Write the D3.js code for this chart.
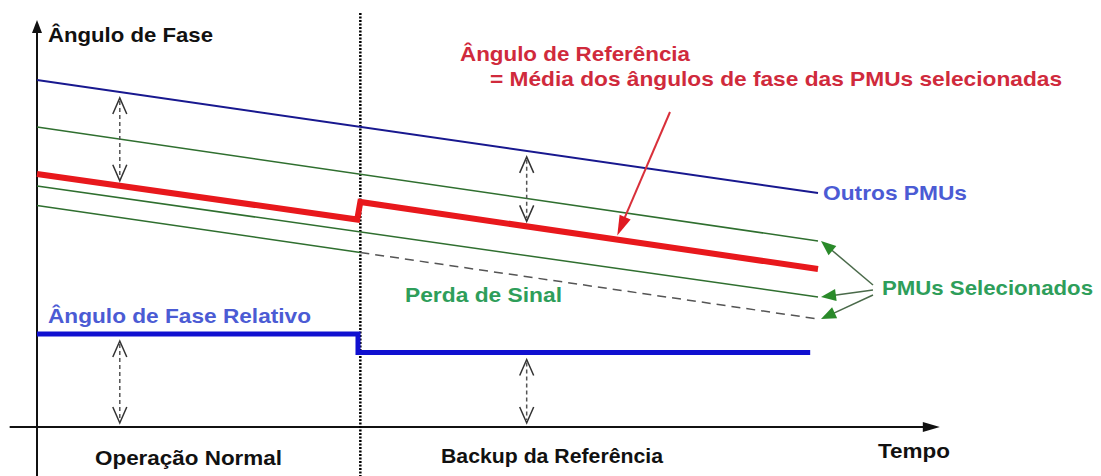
<!DOCTYPE html>
<html>
<head>
<meta charset="utf-8">
<script src="https://cdn.jsdelivr.net/npm/d3@7"></script>
<style>
body { margin: 0; background: #fff; }
text { font-family: "Liberation Sans", Arial, sans-serif; font-weight: bold; }
</style>
</head>
<body>
<div id="chart"></div>
<script>
//Width and height of picture
var width = 1101;
var height = 476;

// time (arbitrary units) where the reference switches to backup
var tSwitch = 4.14;

// phase angle traces as [time, angle] pairs
var outrosPMUs = [[0, 34.7], [10, 23.4]];
var pmuSel1 = [[0, 30.0], [10, 18.6]];
var pmuSel2 = [[0, 24.1], [10, 13.0]];
var pmuSel3 = [[0, 22.15], [4.14, 17.45]];
var pmuSel3Perda = [[4.14, 17.45], [10, 10.8]];
var anguloRef = [[0, 25.3], [4.10, 20.75], [4.14, 22.5], [10, 15.8]];
var anguloRelativo = [[0, 9.3], [4.11, 9.3], [4.11, 7.45], [9.9, 7.45]];

// times where the dashed double arrows mark the angle difference
var arrowTimes = [1.06, 6.27];

// time where the red note points at the reference trace
var tNote = 7.43;

// axis extents
var tAxis = [-0.35, 11.56];
var angAxis = [-4.9, 40.7];

// text labels
var labels = [
    { text: "Ângulo de Fase", x: 48, y: 42, w: 165, color: "#111" },
    { text: "Ângulo de Referência", x: 460, y: 61, w: 230, color: "#d02a3c" },
    { text: "= Média dos ângulos de fase das PMUs selecionadas", x: 490, y: 86, w: 572, color: "#d02a3c" },
    { text: "Outros PMUs", x: 823, y: 200, w: 144, color: "#4b5bd4" },
    { text: "PMUs Selecionados", x: 882, y: 295, w: 211, color: "#2e9e5a" },
    { text: "Perda de Sinal", x: 405, y: 302, w: 157, color: "#2e9e5a" },
    { text: "Ângulo de Fase Relativo", x: 48, y: 323, w: 263, color: "#4b5bd4" },
    { text: "Operação Normal", x: 95, y: 465, w: 187, color: "#111" },
    { text: "Backup da Referência", x: 441, y: 463, w: 222, color: "#111" },
    { text: "Tempo", x: 878, y: 458, w: 72, color: "#111" }
];

// scales
var x = d3.scaleLinear().domain([0, 10]).range([37, 818]);
var y = d3.scaleLinear().domain([0, 40]).range([427, 27]);

var line = d3.line()
    .x(function (d) { return x(d[0]); })
    .y(function (d) { return y(d[1]); });

// linear value of a trace at time t
function valueAt(series, t) {
    for (var i = 0; i < series.length - 1; i++) {
        var a = series[i], b = series[i + 1];
        if (t >= a[0] && t <= b[0]) {
            return a[1] + (b[1] - a[1]) * (t - a[0]) / (b[0] - a[0]);
        }
    }
    return series[series.length - 1][1];
}

// filled triangle head pointing from (fx,fy) to (tx,ty)
function head(g, tx, ty, fx, fy, len, hw, color) {
    var a = Math.atan2(ty - fy, tx - fx);
    var bx = tx - len * Math.cos(a), by = ty - len * Math.sin(a);
    var px = -Math.sin(a) * hw, py = Math.cos(a) * hw;
    g.append("path")
        .attr("d", "M" + tx + "," + ty + "L" + (bx + px) + "," + (by + py) + "L" + (bx - px) + "," + (by - py) + "Z")
        .attr("fill", color);
}

// dashed arrow with open heads on both ends
function doubleArrow(g, xp, y1, y2) {
    g.append("line")
        .attr("x1", xp).attr("x2", xp)
        .attr("y1", y1 + 3).attr("y2", y2 - 3)
        .attr("stroke", "#555")
        .attr("stroke-width", 1.5)
        .attr("stroke-dasharray", "4,3");
    g.append("path")
        .attr("d", "M" + (xp - 7) + "," + (y1 + 16) + "L" + xp + "," + y1 + "L" + (xp + 7) + "," + (y1 + 16))
        .attr("fill", "none").attr("stroke", "#333").attr("stroke-width", 1.5);
    g.append("path")
        .attr("d", "M" + (xp - 7) + "," + (y2 - 16) + "L" + xp + "," + y2 + "L" + (xp + 7) + "," + (y2 - 16))
        .attr("fill", "none").attr("stroke", "#333").attr("stroke-width", 1.5);
}

var svg = d3.select("#chart")
    .append("svg")
    .attr("width", width)
    .attr("height", height)
    .style("background", "#fff");

// axes
svg.append("line")
    .attr("x1", x(0)).attr("x2", x(0))
    .attr("y1", y(angAxis[0])).attr("y2", y(angAxis[1]) + 10)
    .attr("stroke", "#111").attr("stroke-width", 2);
head(svg, x(0), y(angAxis[1]), x(0), y(0), 13, 5, "#111");

svg.append("line")
    .attr("x1", x(tAxis[0])).attr("x2", x(tAxis[1]) - 12)
    .attr("y1", y(0)).attr("y2", y(0))
    .attr("stroke", "#111").attr("stroke-width", 2);
head(svg, x(tAxis[1]), y(0), x(0), y(0), 17, 5, "#111");

// switch instant
svg.append("line")
    .attr("x1", x(tSwitch)).attr("x2", x(tSwitch))
    .attr("y1", y(41.4)).attr("y2", y(angAxis[0]))
    .attr("stroke", "#000")
    .attr("stroke-width", 2.5)
    .attr("stroke-dasharray", "2,1.5");

// traces
svg.append("path").datum(outrosPMUs).attr("d", line)
    .attr("fill", "none").attr("stroke", "#18188f").attr("stroke-width", 2);

[pmuSel1, pmuSel2, pmuSel3].forEach(function (s) {
    svg.append("path").datum(s).attr("d", line)
        .attr("fill", "none").attr("stroke", "#2f6f2f").attr("stroke-width", 1.5);
});

svg.append("path").datum(pmuSel3Perda).attr("d", line)
    .attr("fill", "none").attr("stroke", "#555").attr("stroke-width", 1.5)
    .attr("stroke-dasharray", "9,6");

svg.append("path").datum(anguloRef).attr("d", line)
    .attr("fill", "none").attr("stroke", "#e8181c").attr("stroke-width", 6)
    .attr("stroke-linejoin", "miter");

svg.append("path").datum(anguloRelativo).attr("d", line)
    .attr("fill", "none").attr("stroke", "#1010d0").attr("stroke-width", 5)
    .attr("stroke-linejoin", "miter");

// difference arrows
arrowTimes.forEach(function (t) {
    doubleArrow(svg, x(t), y(valueAt(outrosPMUs, t)) + 6, y(valueAt(anguloRef, t)) - 5);
    doubleArrow(svg, x(t), y(valueAt(anguloRelativo, t)) + 7, y(0) - 4);
});

// red note arrow
var noteTipX = x(tNote), noteTipY = y(valueAt(anguloRef, tNote)) - 4;
svg.append("line")
    .attr("x1", 670).attr("y1", 112)
    .attr("x2", noteTipX + 4).attr("y2", noteTipY - 10)
    .attr("stroke", "#d9303a").attr("stroke-width", 2);
head(svg, noteTipX, noteTipY, 670, 112, 20, 6, "#e01a22");

// green pointers to the selected PMUs
[pmuSel1, pmuSel2, pmuSel3Perda].forEach(function (s, i) {
    var last = s[s.length - 1];
    var tx = x(last[0]) + 3, ty = y(last[1]);
    var fx = 873, fy = 285 + i * 5;
    var a = Math.atan2(ty - fy, tx - fx);
    svg.append("line")
        .attr("x1", fx).attr("y1", fy)
        .attr("x2", tx - 10 * Math.cos(a)).attr("y2", ty - 10 * Math.sin(a))
        .attr("stroke", "#4a6a4a").attr("stroke-width", 1.5);
    head(svg, tx, ty, fx, fy, 15, 6, "#2a8a2a");
});

// labels
svg.selectAll("text.lbl")
    .data(labels)
    .enter()
    .append("text")
    .attr("class", "lbl")
    .attr("x", function (d) { return d.x; })
    .attr("y", function (d) { return d.y; })
    .attr("font-size", 21)
    .attr("textLength", function (d) { return d.w; })
    .attr("lengthAdjust", "spacingAndGlyphs")
    .attr("fill", function (d) { return d.color; })
    .text(function (d) { return d.text; });
</script>
</body>
</html>
